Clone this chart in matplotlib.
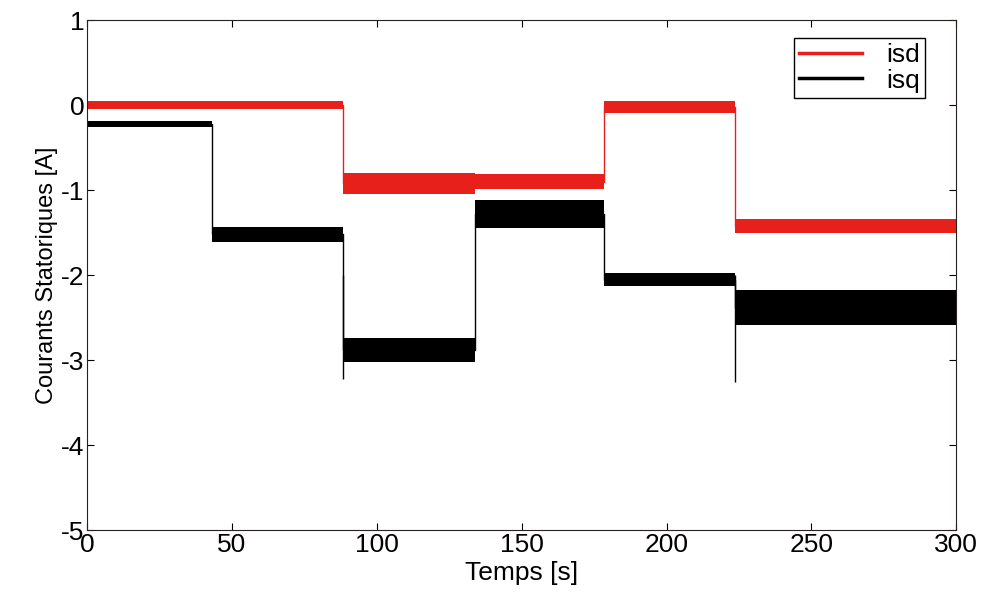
import numpy as np
import matplotlib
matplotlib.use("Agg")
import matplotlib.pyplot as plt

# instants de commutation [s] et niveaux moyens par palier [A]
t_edges = [0, 43, 88.5, 134, 178.5, 223.5, 300]
isq_level = [-0.22, -1.52, -2.88, -1.28, -2.05, -2.38]
isq_band = [0.035, 0.09, 0.14, 0.16, 0.08, 0.21]   # demi-largeur du bruit
isd_level = [0.00, 0.00, -0.92, -0.90, -0.02, -1.42]
isd_band = [0.05, 0.05, 0.12, 0.09, 0.07, 0.08]

# pics transitoires aux commutations
spike_t = [88.5, 223.5]
spike_isq = [-3.22, -3.25]

plt.rcParams['font.family'] = ['Liberation Sans', 'DejaVu Sans']
plt.rcParams['axes.unicode_minus'] = False

fig = plt.figure(figsize=(9.89, 5.94), dpi=100)
ax = fig.add_axes([0.088, 0.107, 0.879, 0.859])

t = np.array(t_edges)


def draw(level, band, color):
    lv = np.array(level + [level[-1]])
    bd = np.array(band + [band[-1]])
    ax.fill_between(t, lv - bd, lv + bd, step='post', color=color, lw=0)
    ax.step(t, lv, where='post', color=color, lw=1.0)


draw(isq_level, isq_band, 'black')
draw(isd_level, isd_band, '#e8201c')
for ts, ys in zip(spike_t, spike_isq):
    ax.vlines(ts, ys, -2.0, color='black', lw=1.0)

ax.plot([], [], color='#e8201c', lw=2.5, label='isd')
ax.plot([], [], color='black', lw=2.5, label='isq')

ax.set_xlim(0, 300)
ax.set_ylim(-5, 1)
ax.set_xticks(range(0, 301, 50))
ax.set_yticks(range(-5, 2))
ax.tick_params(direction='in', top=True, right=True, labelsize=19, length=5, pad=2)
for s in ax.spines.values():
    s.set_color('#2a2020')
ax.set_xlabel('Temps [s]', fontsize=19, labelpad=3)
ax.set_ylabel('Courants Statoriques [A]', fontsize=17, labelpad=2)

leg = ax.legend(loc='upper right', bbox_to_anchor=(0.964, 0.965), fontsize=19,
                fancybox=False, edgecolor='black', framealpha=1,
                handlelength=2.4, handletextpad=0.9, borderpad=0.2,
                borderaxespad=0, labelspacing=0.05)
leg.get_frame().set_linewidth(1.0)
leg._legend_box.align = 'left'

fig.savefig('out.png', dpi=100)
